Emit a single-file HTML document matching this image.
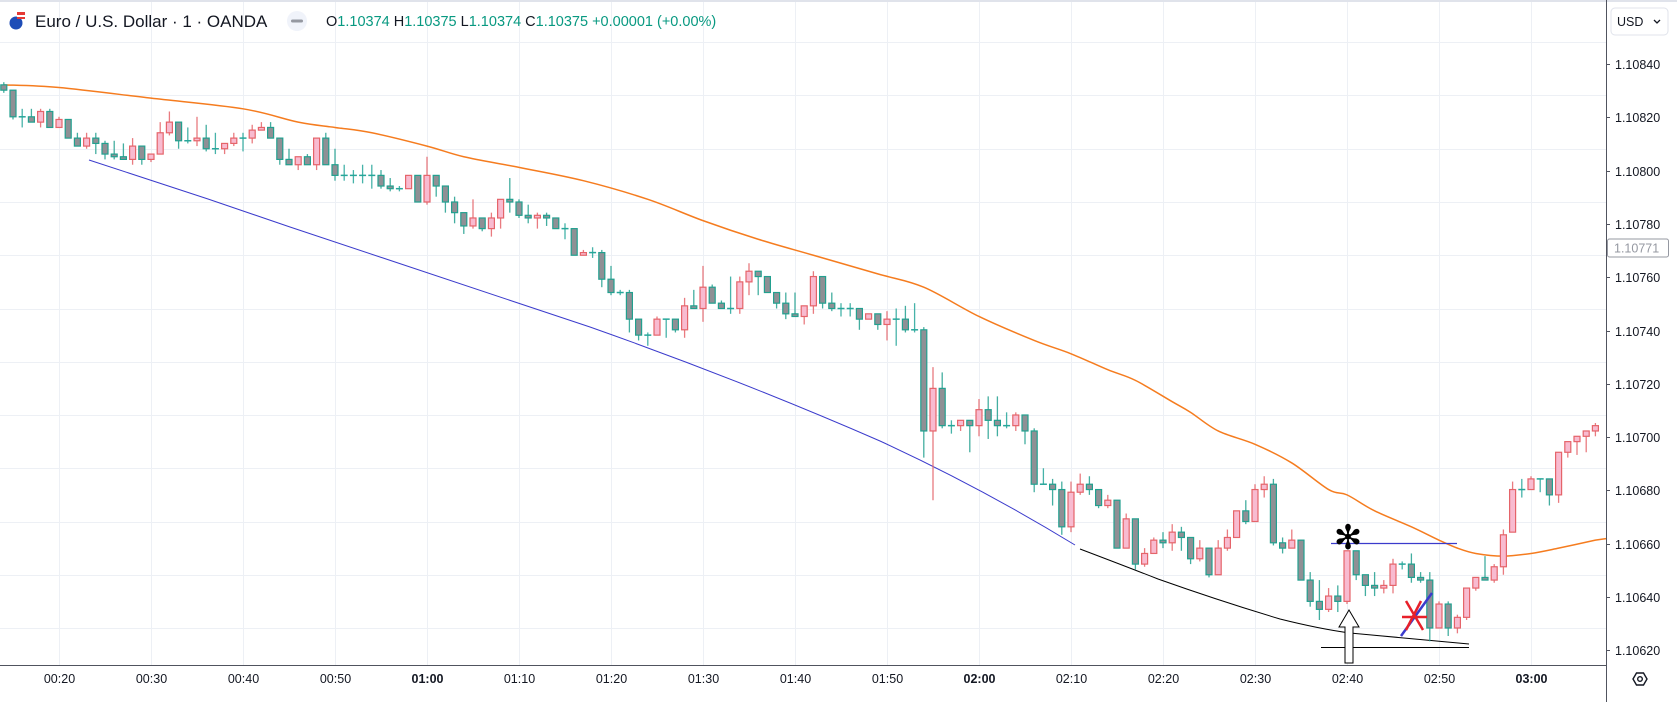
<!DOCTYPE html>
<html><head><meta charset="utf-8"><title>EURUSD 1m chart</title>
<style>
html,body{margin:0;padding:0;background:#fff;}
svg{display:block;font-family:"Liberation Sans",sans-serif;}
</style></head>
<body>
<svg id="chart" width="1677" height="702" viewBox="0 0 1677 702" xmlns="http://www.w3.org/2000/svg">
<rect x="0" y="0" width="1677" height="702" fill="#ffffff"/>
<rect x="0" y="0" width="1677" height="2" fill="#e0e3eb"/>
<g id="grid"></g>
<g id="drawings-back"></g>
<g id="ma"></g>
<g id="candles"></g>
<g id="drawings"></g>
<g id="axes"></g>
<g>
  <g>
    <circle cx="16" cy="23" r="6.5" fill="#1e4db7"/>
    <rect x="17" y="12" width="8" height="3" fill="#e53935"/>
    <rect x="17" y="15" width="8" height="2" fill="#ffffff"/>
    <rect x="17" y="17" width="8" height="2" fill="#e53935"/>
  </g>
  <text x="35" y="27" font-size="17" fill="#131722">Euro / U.S. Dollar · 1 · OANDA</text>
  <g>
    <circle cx="297" cy="21" r="10" fill="#f0f3fa"/>
    <rect x="291" y="19.5" width="12" height="3" rx="1.5" fill="#9598a1"/>
  </g>
  <text x="326" y="26" font-size="14.5" fill="#131722">O<tspan fill="#089981">1.10374</tspan> H<tspan fill="#089981">1.10375</tspan> L<tspan fill="#089981">1.10374</tspan> C<tspan fill="#089981">1.10375</tspan> <tspan fill="#089981">+0.00001 (+0.00%)</tspan></text>
</g>
<g>
  <rect x="1611" y="8" width="57" height="27" rx="4" fill="#fff" stroke="#e0e3eb"/>
  <text x="1617" y="26" font-size="12.5" fill="#131722">USD</text>
  <path d="M1654 20 l3 3 l3 -3" fill="none" stroke="#131722" stroke-width="1.3"/>
</g>
<g>
  <path d="M1633 679 l3.5 -6 h7 l3.5 6 l-3.5 6 h-7 z" fill="none" stroke="#131722" stroke-width="1.4"/>
  <circle cx="1640" cy="679" r="2.3" fill="none" stroke="#131722" stroke-width="1.4"/>
</g>
</svg>
<script>
// ---- data (1-minute candles starting at 00:14) ----
const startMinute = 14;
const openP = [1.10824,1.10822,1.10812,1.10812,1.10810,1.10814,1.10808,1.10811,1.10804,1.10801,
1.10804,1.10802,1.10798,1.10797,1.10796,1.10801,1.10796,1.10798,1.10806,1.10810,
1.10803,1.10803,1.10804,1.10800,1.10800,1.10802,1.10804,1.10804,1.10807,1.10808,
1.10804,1.10796,1.10794,1.10797,1.10794,1.10804,1.10794,1.10790,1.10790,1.10790,
1.10790,1.10790,1.10786,1.10785,1.10785,1.10790,1.10780,1.10790,1.10786,1.10780,
1.10776,1.10771,1.10774,1.10770,1.10774,1.10781,1.10780,1.10775,1.10774,1.10775,
1.10774,1.10770,1.10770,1.10760,1.10761,1.10761,1.10751,1.10746,1.10746,1.10736,
1.10730,1.10730,1.10736,1.10736,1.10732,1.10741,1.10740,1.10748,1.10742,1.10740,
1.10740,1.10750,1.10754,1.10752,1.10746,1.10742,1.10738,1.10737,1.10741,1.10752,
1.10742,1.10740,1.10740,1.10740,1.10736,1.10738,1.10734,1.10736,1.10736,1.10732,
1.10732,1.10694,1.10710,1.10696,1.10696,1.10698,1.10696,1.10702,1.10698,1.10696,
1.10696,1.10700,1.10694,1.10674,1.10674,1.10672,1.10658,1.10671,1.10674,1.10672,
1.10666,1.10668,1.10650,1.10661,1.10644,1.10648,1.10653,1.10652,1.10656,1.10654,
1.10646,1.10650,1.10640,1.10650,1.10654,1.10664,1.10660,1.10672,1.10674,1.10652,
1.10650,1.10653,1.10638,1.10630,1.10627,1.10632,1.10630,1.10649,1.10640,1.10636,
1.10635,1.10636,1.10644,1.10644,1.10639,1.10638,1.10620,1.10629,1.10620,1.10624,
1.10635,1.10639,1.10638,1.10643,1.10656,1.10672,1.10672,1.10676,1.10676,1.10670,
1.10686,1.10690,1.10692,1.10694];
const highP = [1.10825,1.10822,1.10815,1.10815,1.10815,1.10815,1.10812,1.10811,1.10806,1.10806,
1.10806,1.10803,1.10803,1.10802,1.10804,1.10801,1.10798,1.10810,1.10814,1.10810,
1.10808,1.10812,1.10809,1.10806,1.10802,1.10806,1.10806,1.10809,1.10810,1.10810,
1.10804,1.10800,1.10797,1.10798,1.10804,1.10806,1.10800,1.10794,1.10792,1.10794,
1.10794,1.10792,1.10789,1.10786,1.10790,1.10790,1.10797,1.10790,1.10786,1.10782,
1.10776,1.10781,1.10774,1.10776,1.10781,1.10789,1.10781,1.10779,1.10776,1.10776,
1.10774,1.10772,1.10770,1.10762,1.10763,1.10762,1.10756,1.10747,1.10747,1.10736,
1.10731,1.10737,1.10736,1.10736,1.10744,1.10747,1.10756,1.10749,1.10743,1.10752,
1.10752,1.10757,1.10754,1.10752,1.10746,1.10746,1.10746,1.10741,1.10754,1.10752,
1.10746,1.10742,1.10742,1.10740,1.10738,1.10738,1.10739,1.10740,1.10741,1.10742,
1.10733,1.10718,1.10716,1.10698,1.10698,1.10698,1.10706,1.10707,1.10707,1.10701,
1.10701,1.10700,1.10695,1.10680,1.10676,1.10675,1.10675,1.10678,1.10677,1.10672,
1.10670,1.10668,1.10663,1.10661,1.10650,1.10654,1.10656,1.10659,1.10658,1.10654,
1.10653,1.10650,1.10653,1.10657,1.10664,1.10668,1.10674,1.10677,1.10676,1.10654,
1.10657,1.10653,1.10641,1.10638,1.10635,1.10636,1.10649,1.10649,1.10640,1.10641,
1.10638,1.10646,1.10645,1.10648,1.10641,1.10641,1.10630,1.10630,1.10625,1.10635,
1.10639,1.10647,1.10644,1.10657,1.10675,1.10676,1.10677,1.10676,1.10676,1.10686,
1.10690,1.10692,1.10694,1.10697];
const lowP = [1.10821,1.10811,1.10808,1.10810,1.10808,1.10808,1.10808,1.10804,1.10801,1.10800,
1.10798,1.10796,1.10796,1.10796,1.10794,1.10794,1.10795,1.10798,1.10805,1.10800,
1.10802,1.10801,1.10799,1.10798,1.10798,1.10801,1.10799,1.10802,1.10807,1.10804,
1.10794,1.10794,1.10792,1.10794,1.10792,1.10794,1.10788,1.10788,1.10787,1.10787,
1.10785,1.10785,1.10784,1.10784,1.10785,1.10780,1.10779,1.10782,1.10776,1.10772,
1.10768,1.10770,1.10769,1.10767,1.10770,1.10776,1.10774,1.10772,1.10770,1.10771,
1.10770,1.10766,1.10760,1.10760,1.10759,1.10748,1.10745,1.10745,1.10731,1.10728,
1.10726,1.10730,1.10729,1.10731,1.10729,1.10740,1.10735,1.10742,1.10740,1.10738,
1.10738,1.10745,1.10745,1.10746,1.10740,1.10736,1.10737,1.10734,1.10738,1.10740,
1.10739,1.10737,1.10737,1.10732,1.10736,1.10732,1.10728,1.10726,1.10731,1.10731,
1.10684,1.10668,1.10695,1.10693,1.10694,1.10686,1.10692,1.10691,1.10692,1.10695,
1.10694,1.10689,1.10671,1.10674,1.10666,1.10655,1.10656,1.10670,1.10670,1.10665,
1.10665,1.10650,1.10650,1.10642,1.10643,1.10648,1.10650,1.10649,1.10649,1.10644,
1.10645,1.10639,1.10640,1.10649,1.10654,1.10659,1.10660,1.10669,1.10651,1.10648,
1.10650,1.10638,1.10628,1.10623,1.10626,1.10626,1.10629,1.10638,1.10632,1.10632,
1.10633,1.10633,1.10642,1.10637,1.10637,1.10615,1.10620,1.10617,1.10618,1.10623,
1.10634,1.10638,1.10637,1.10640,1.10656,1.10669,1.10672,1.10671,1.10666,1.10667,
1.10684,1.10685,1.10686,1.10692];
const closeP = [1.10822,1.10812,1.10812,1.10810,1.10814,1.10808,1.10811,1.10804,1.10801,1.10804,
1.10802,1.10798,1.10797,1.10796,1.10801,1.10796,1.10798,1.10806,1.10810,1.10803,
1.10803,1.10804,1.10800,1.10800,1.10802,1.10804,1.10804,1.10807,1.10808,1.10804,
1.10796,1.10794,1.10797,1.10794,1.10804,1.10794,1.10790,1.10790,1.10790,1.10790,
1.10790,1.10786,1.10785,1.10785,1.10790,1.10780,1.10790,1.10786,1.10780,1.10776,
1.10771,1.10774,1.10770,1.10774,1.10781,1.10780,1.10775,1.10774,1.10775,1.10774,
1.10770,1.10770,1.10760,1.10761,1.10761,1.10751,1.10746,1.10746,1.10736,1.10730,
1.10730,1.10736,1.10736,1.10732,1.10741,1.10740,1.10748,1.10742,1.10740,1.10740,
1.10750,1.10754,1.10752,1.10746,1.10742,1.10738,1.10737,1.10741,1.10752,1.10742,
1.10740,1.10740,1.10740,1.10736,1.10738,1.10734,1.10736,1.10736,1.10732,1.10732,
1.10694,1.10710,1.10696,1.10696,1.10698,1.10696,1.10702,1.10698,1.10696,1.10696,
1.10700,1.10694,1.10674,1.10674,1.10672,1.10658,1.10671,1.10674,1.10672,1.10666,
1.10668,1.10650,1.10661,1.10644,1.10648,1.10653,1.10652,1.10656,1.10654,1.10646,
1.10650,1.10640,1.10650,1.10654,1.10664,1.10660,1.10672,1.10674,1.10652,1.10650,
1.10653,1.10638,1.10630,1.10627,1.10632,1.10630,1.10649,1.10640,1.10636,1.10635,
1.10636,1.10644,1.10644,1.10639,1.10638,1.10620,1.10629,1.10620,1.10624,1.10635,
1.10639,1.10638,1.10643,1.10655,1.10672,1.10672,1.10676,1.10676,1.10670,1.10686,
1.10690,1.10692,1.10694,1.10696];
// moving average, sampled at candle indices
const maIdx = [0,6,16,26,32,36,40,46,50,56,63,70,76,82,88,95,100,106,112,116,120,123,127,129,132,136,140,144,146,149,153,156,158,160,163,166,169,173];
const maVal = [1.10824,1.10823,1.10819,1.10815,1.10810,1.10808,1.10806,1.10801,1.10797,1.10793,1.10788,1.10781,1.10773,1.10766,1.10760,1.10753,1.10748,1.10737,1.10728,1.10723,1.10717,1.10713,1.10705,1.10701,1.10694,1.10689,1.10682,1.10672,1.10670,1.10664,1.10658,1.10653,1.10650,1.10648,1.10647,1.10648,1.10650,1.10653];
// axis ticks
const priceTicks = [1.10840,1.10820,1.10800,1.10780,1.10760,1.10740,1.10720,1.10700,1.10680,1.10660,1.10640,1.10620];
const timeTickMinutes = [20,30,40,50,60,70,80,90,100,110,120,130,140,150,160,170,180];
const timeTickLabels = ["00:20","00:30","00:40","00:50","01:00","01:10","01:20","01:30","01:40","01:50","02:00","02:10","02:20","02:30","02:40","02:50","03:00"];
const lastPriceLabel = 1.10771;

// ---- scales ----
const NS = "http://www.w3.org/2000/svg";
const plotRight = 1606, plotBottom = 665;
const labelOffset = 22;
function xOfMinute(m){ return 59 + (m - 20) * 9.2; }
function xOfIndex(i){ return xOfMinute(startMinute + i); }
function yOfPrice(p){ return 628 - (p - 1.10620) / 0.0002 * 53.25; }
function mk(tag, attrs, parent){
  const el = document.createElementNS(NS, tag);
  for (const k in attrs) el.setAttribute(k, attrs[k]);
  parent.appendChild(el);
  return el;
}
const gGrid = document.getElementById('grid');
const gAxes = document.getElementById('axes');
const gC = document.getElementById('candles');
const gMA = document.getElementById('ma');
const gD = document.getElementById('drawings');
const gDB = document.getElementById('drawings-back');

// grid
priceTicks.forEach(function(p){
  const y = Math.round(yOfPrice(p)) + 0.5;
  const l = mk('line', {x1:0, x2:plotRight, y1:y, y2:y, stroke:'#edf0f5', 'stroke-width':1}, gGrid);
  
  
  const ty = y + labelOffset;
  const tk = mk('line', {x1:plotRight, x2:plotRight+4, y1:ty, y2:ty, stroke:'#50535e', 'stroke-width':1}, gAxes);
  
  
  const t = mk('text', {x:1615, y:ty+4.5, 'font-size':12.5, fill:'#131722'}, gAxes);
  t.textContent = p.toFixed(5);
  
  
});
timeTickMinutes.forEach(function(m, k){
  const x = Math.round(xOfMinute(m)) + 0.5;
  const l = mk('line', {x1:x, x2:x, y1:2, y2:plotBottom, stroke:'#edf0f5', 'stroke-width':1}, gGrid);
  
  
  const bold = timeTickLabels[k].slice(3) === '00';
  const t = mk('text', {x:x, y:683, 'font-size':12.5, 'text-anchor':'middle', fill:'#131722', 'font-weight': bold ? 'bold' : 'normal'}, gAxes);
  t.textContent = timeTickLabels[k];
  
  
});
// axis borders
let ax = mk('line', {x1:plotRight+0.5, x2:plotRight+0.5, y1:0, y2:702, stroke:'#50535e', 'stroke-width':1}, gAxes);


ax = mk('line', {x1:0, x2:plotRight, y1:plotBottom+0.5, y2:plotBottom+0.5, stroke:'#50535e', 'stroke-width':1}, gAxes);


// last price label box
const ly = yOfPrice(lastPriceLabel) + labelOffset;
const lb = mk('rect', {x:1607.5, y:ly-9, width:61, height:18, rx:2, fill:'#fff', stroke:'#9598a1'}, gAxes);


const lt = mk('text', {x:1614, y:ly+4.5, 'font-size':12.5, fill:'#9598a1'}, gAxes);
lt.textContent = lastPriceLabel.toFixed(5);



// candles
for (let i = 0; i < openP.length; i++){
  const x = xOfIndex(i);
  const o = openP[i], h = highP[i], l = lowP[i], c = closeP[i];
  const up = c > o, doji = Math.abs(c - o) < 1e-9;
  const stroke = doji ? '#26a69a' : (up ? '#e5646a' : '#22a08f');
  const fill = up ? '#f8bbd0' : '#8f9095';
  const g = mk('g', {}, gC);
  
  
  mk('line', {x1:x, x2:x, y1:yOfPrice(h), y2:yOfPrice(l), stroke:stroke, 'stroke-width':1.3, 'stroke-opacity':0.85}, g);
  const yt = yOfPrice(Math.max(o, c)), yb = yOfPrice(Math.min(o, c));
  if (doji){
    mk('line', {x1:x-3.5, x2:x+3.5, y1:yt, y2:yt, stroke:stroke, 'stroke-width':1.5}, g);
  } else {
    mk('rect', {x:x-3, y:yt, width:6, height:Math.max(1, yb-yt), fill:fill, stroke:stroke, 'stroke-width':1.2}, g);
  }
}

// moving average (smooth through sampled values)
(function(){
  const pts = maIdx.map(function(i, k){ return [xOfIndex(i), yOfPrice(maVal[k])]; });
  let d = 'M' + pts[0][0] + ' ' + pts[0][1];
  for (let k = 0; k < pts.length - 1; k++){
    const p0 = pts[Math.max(0, k-1)], p1 = pts[k], p2 = pts[k+1], p3 = pts[Math.min(pts.length-1, k+2)];
    const c1x = p1[0] + (p2[0]-p0[0])/6, c1y = p1[1] + (p2[1]-p0[1])/6;
    const c2x = p2[0] - (p3[0]-p1[0])/6, c2y = p2[1] - (p3[1]-p1[1])/6;
    d += ' C' + c1x + ' ' + c1y + ' ' + c2x + ' ' + c2y + ' ' + p2[0] + ' ' + p2[1];
  }
  const last = pts[pts.length-1];
  d += ' L' + (plotRight) + ' ' + (last[1] - 1.5);
  const path = mk('path', {d:d, fill:'none', stroke:'#f57c1f', 'stroke-width':1.5}, gMA);
  
  
})();

// user drawings (annotation shapes)
let el;
el = mk('path', {d:'M89 160 L208 199 L290 227 Q440 277 590 327 Q740 380 880 441 Q980 487 1075 545', fill:'none', stroke:'#3b3bcc', 'stroke-width':1}, gDB);


el = mk('path', {d:'M1080 549 Q1130 568 1158 579 Q1220 601 1280 619 Q1320 629 1350 633 L1469 644', fill:'none', stroke:'#000', 'stroke-width':1}, gDB);


el = mk('line', {x1:1321, x2:1469, y1:647.5, y2:647.5, stroke:'#000', 'stroke-width':1}, gDB);


el = mk('line', {x1:1331, x2:1457, y1:543.5, y2:543.5, stroke:'#3b3bcc', 'stroke-width':1.2}, gD);


el = mk('text', {x:1348, y:549, 'font-size':34, 'text-anchor':'middle', fill:'#000', 'font-family':'DejaVu Sans, sans-serif', 'font-weight':'bold'}, gD);
el.textContent = '✻';


el = mk('path', {d:'M1349 610 L1359 627 L1353 627 L1353 663 L1345 663 L1345 627 L1339 627 Z', fill:'#fff', stroke:'#000', 'stroke-width':1}, gD);


el = mk('line', {x1:1401, x2:1432, y1:636, y2:593, stroke:'#3b3bcc', 'stroke-width':2.5}, gD);


el = mk('path', {d:'M1402 617 L1427 617 M1406 601 L1423 630 M1421 601 L1406 630', fill:'none', stroke:'#e8202a', 'stroke-width':2.5}, gD);


</script>
</body></html>
